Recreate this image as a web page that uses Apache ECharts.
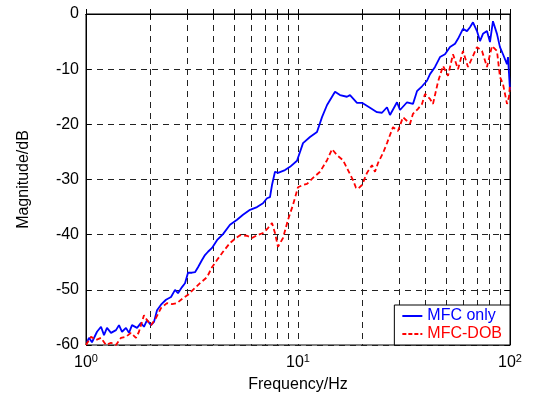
<!DOCTYPE html>
<html>
<head>
<meta charset="utf-8">
<script src="https://cdn.jsdelivr.net/npm/echarts@6/dist/echarts.min.js"></script>
<style>
html,body{margin:0;padding:0;background:#fff;}
#chart{width:535px;height:407px;}
</style>
</head>
<body>
<div id="chart"></div>
<script>
// Data
var blueName = 'MFC only';
var redName = 'MFC-DOB';
var blueFreq = [1.011,1.033,1.067,1.127,1.177,1.216,1.256,1.312,1.385,1.431,1.479,1.544,1.595,1.648,1.741,1.817,1.877,1.940,2.026,2.094,2.163,2.258,2.384,2.518,2.630,2.716,2.837,2.931,3.028,3.162,3.267,3.376,3.525,3.641,3.762,3.930,4.149,4.429,4.778,5.157,5.503,5.938,6.407,6.838,7.141,7.377,7.540,7.789,8.046,8.683,9.169,9.892,10.56,11.39,12.29,12.98,13.71,14.47,14.95,15.78,17.02,17.59,18.98,20.04,21.86,23.59,24.90,26.29,27.16,29.31,30.28,32.68,34.86,36.41,38.46,40.60,41.94,44.29,46.76,49.36,52.12,55.03,56.85,60.01,62.68,64.75,66.90,69.86,72.18,74.56,77.87,80.45,83.11,86.81,89.68,92.68,96.78,97.85,100];
var blueMag = [-59.5,-58.7,-59.5,-57.6,-56.7,-58.2,-56.9,-57.8,-57.3,-56.4,-57.6,-56.9,-57.8,-56.4,-56.9,-56.0,-56.7,-55.5,-56.4,-55.8,-53.7,-52.7,-51.8,-51.3,-50.0,-50.6,-49.5,-48.8,-46.9,-46.9,-46.8,-45.9,-44.6,-43.7,-43.1,-42.4,-41.0,-39.9,-38.2,-37.3,-36.4,-35.5,-35.0,-34.3,-33.4,-33.2,-31.0,-28.6,-28.8,-28.3,-27.7,-26.6,-23.4,-22.3,-21.4,-18.7,-16.5,-15.0,-14.1,-14.7,-15.0,-14.7,-16.1,-16.1,-17.0,-17.8,-17.9,-16.9,-18.3,-16.0,-17.4,-16.0,-16.3,-14.0,-13.1,-12.1,-10.9,-9.6,-7.8,-7.3,-6.0,-5.4,-4.5,-2.7,-3.1,-2.4,-1.5,-3.1,-4.9,-3.6,-3.1,-5.1,-1.3,-3.6,-6.0,-7.3,-9.1,-7.8,-13.8];
var redFreq = [1.0,1.056,1.115,1.177,1.243,1.312,1.385,1.463,1.544,1.630,1.721,1.778,1.877,1.940,2.026,2.139,2.258,2.410,2.545,2.686,2.869,3.028,3.196,3.450,3.723,3.930,4.149,4.429,4.778,5.100,5.326,5.746,6.067,6.407,6.838,7.220,7.540,7.789,8.046,8.498,8.972,9.471,10.00,10.56,11.03,11.77,12.70,13.71,14.47,15.28,16.31,17.21,18.17,18.77,19.19,20.04,21.16,22.34,23.08,23.85,25.18,26.29,28.06,29.63,31.28,32.68,33.76,34.86,36.81,38.46,39.72,41.94,43.33,45.75,48.31,51.00,53.84,56.85,60.01,63.38,69.86,73.79,77.87,82.25,86.81,89.68,92.68,96.78,98.92,100];
var redMag = [-60.0,-58.5,-59.1,-58.7,-60.0,-59.6,-60.0,-58.7,-58.5,-57.8,-58.7,-57.6,-54.6,-55.5,-56.4,-55.1,-53.3,-52.4,-52.6,-52.4,-51.5,-50.9,-50.0,-48.8,-47.7,-45.9,-44.6,-43.1,-41.5,-40.6,-40.1,-40.2,-40.6,-40.1,-39.7,-38.8,-37.9,-39.7,-42.2,-40.6,-37.3,-34.6,-31.4,-31.0,-30.8,-29.7,-28.6,-26.5,-24.5,-25.6,-26.5,-28.3,-30.1,-31.5,-31.7,-31.0,-28.8,-27.4,-28.6,-27.0,-25.2,-23.4,-20.5,-21.2,-18.7,-19.4,-19.9,-18.1,-17.2,-16.3,-14.5,-15.4,-16.3,-12.3,-9.4,-11.2,-7.3,-10.0,-6.7,-9.6,-6.0,-6.7,-9.6,-5.8,-6.7,-11.4,-12.7,-16.3,-15.0,-12.7];
var xTickValues = [1,2,3,4,5,6,7,8,9,10,20,30,40,50,60,70,80,90,100];
var xLabelValues = [1,10,100];
var yMin = -60, yMax = 0, yStep = 10;

function pairs(xs, ys){ return xs.map(function(x,i){ return [x, ys[i]]; }); }

var FONT = 'Liberation Sans';
var gridLine = {show:true, lineStyle:{color:'#222', type:[6,5], width:1}};

var chart = echarts.init(document.getElementById('chart'), null, {renderer:'canvas'});
chart.setOption({
  animation:false,
  backgroundColor:'#fff',
  textStyle:{fontFamily:FONT},
  grid:{left:86,right:25,top:14,bottom:62,show:true,borderColor:'#000',borderWidth:1,backgroundColor:'transparent'},
  xAxis:[{
    type:'log', logBase:10, min:1, max:100,
    name:'Frequency/Hz', nameLocation:'middle', nameGap:32,
    nameTextStyle:{fontFamily:FONT,fontSize:16,color:'#000'},
    axisLine:{show:true,lineStyle:{color:'#000',width:1}},
    axisTick:{show:true,inside:true,length:5,customValues:xTickValues,lineStyle:{color:'#000'}},
    minorTick:{show:false},
    splitLine:gridLine,
    axisLabel:{
      customValues:xLabelValues, margin:8, color:'#000',
      formatter:function(v){ return '{b|10}{s|' + Math.round(Math.log10(v)) + '}'; },
      rich:{b:{fontFamily:FONT,fontSize:16,color:'#000'},s:{fontFamily:FONT,fontSize:11,color:'#000',padding:[0,0,9,0]}}
    }
  },{
    type:'log', logBase:10, min:1, max:100, position:'top',
    axisLine:{show:true,lineStyle:{color:'#000'}},
    axisTick:{show:true,inside:true,length:5,customValues:xTickValues,lineStyle:{color:'#000'}},
    axisLabel:{show:false}, splitLine:{show:false}
  }],
  yAxis:[{
    type:'value', min:yMin, max:yMax, interval:yStep,
    name:'Magnitude/dB', nameLocation:'middle', nameGap:54,
    nameTextStyle:{fontFamily:FONT,fontSize:16,color:'#000'},
    axisLine:{show:true,lineStyle:{color:'#000'}},
    axisTick:{show:true,inside:true,length:5,lineStyle:{color:'#000'}},
    axisLabel:{fontFamily:FONT,fontSize:16,color:'#000',margin:7},
    splitLine:gridLine
  },{
    type:'value', min:yMin, max:yMax, interval:yStep, position:'right',
    axisLine:{show:true,lineStyle:{color:'#000'}},
    axisTick:{show:true,inside:true,length:5,lineStyle:{color:'#000'}},
    axisLabel:{show:false}, splitLine:{show:false}
  }],
  legend:{
    orient:'vertical', right:25, bottom:62,
    backgroundColor:'#fff', borderColor:'#000', borderWidth:1, borderRadius:0,
    padding:[3,8,3,8], itemGap:2, itemWidth:20, itemHeight:2,
    textStyle:{fontFamily:FONT,fontSize:16},
    itemStyle:{borderWidth:0},
    data:[
      {name:blueName, icon:'path://M0,0H20V2H0Z', itemStyle:{color:'#0000ff',borderWidth:0}, textStyle:{color:'#0000ff'}},
      {name:redName, icon:'path://M0,0H4V2H0Z M6,0H10V2H6Z M12,0H16V2H12Z M18,0H20V2H18Z', itemStyle:{color:'#ff0000',borderWidth:0}, textStyle:{color:'#ff0000'}}
    ]
  },
  series:[{
    name:blueName, type:'line', xAxisIndex:0, yAxisIndex:0,
    showSymbol:false, symbol:'none',
    lineStyle:{color:'#0000ff',width:1.8},
    itemStyle:{color:'#0000ff'},
    data:pairs(blueFreq, blueMag), z:3
  },{
    name:redName, type:'line', xAxisIndex:0, yAxisIndex:0,
    showSymbol:false, symbol:'none',
    lineStyle:{color:'#ff0000',width:1.8,type:[5,3]},
    itemStyle:{color:'#ff0000'},
    data:pairs(redFreq, redMag), z:4
  }]
});
</script>
</body>
</html>
